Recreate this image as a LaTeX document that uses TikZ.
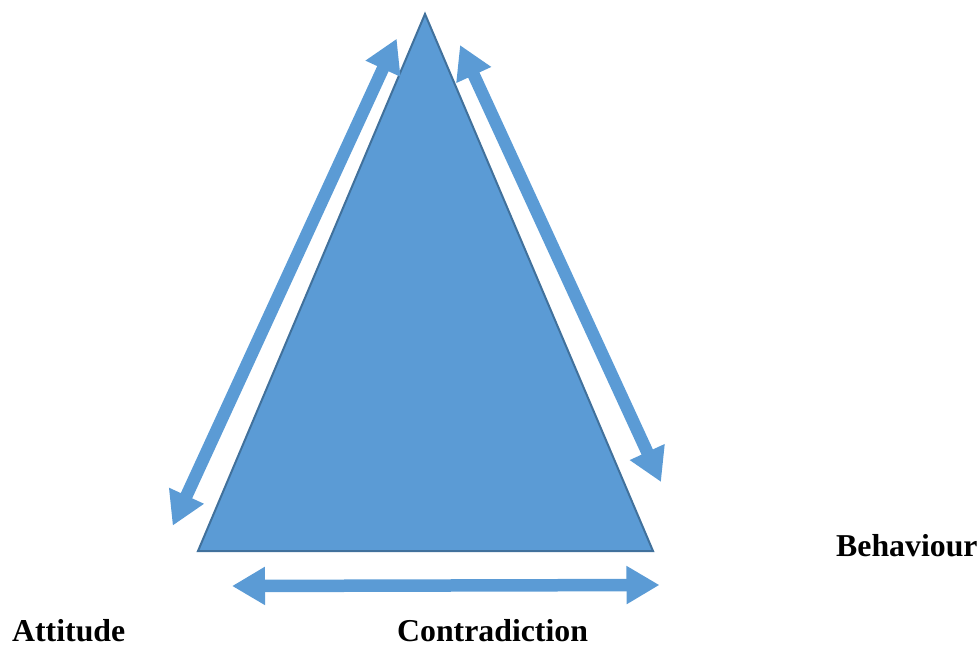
\documentclass[tikz,border=0pt]{standalone}
\usepackage{fontspec}
\setmainfont{Liberation Serif}
\usetikzlibrary{arrows.meta}
\definecolor{blockblue}{HTML}{5B9BD5}
\definecolor{edgeblue}{HTML}{41719C}
\tikzset{
  dblarrow/.style={draw=blockblue, line width=12.5pt,
    {Triangle[width=36pt,length=33pt]}-{Triangle[width=36pt,length=33pt]}},
  label/.style={inner sep=0pt, font=\fontsize{31.8}{36}\selectfont\bfseries, anchor=base west}
}
\begin{document}
\begin{tikzpicture}[x=1pt,y=-1pt]
  \useasboundingbox (0,0) rectangle (979,646);
  % central triangle
  \coordinate (apex) at (425,14);
  \coordinate (bl) at (198,551);
  \coordinate (br) at (653,551);
  \draw[fill=blockblue, draw=edgeblue, line width=2pt, line join=miter] (apex) -- (br) -- (bl) -- cycle;
  % side arrows
  \coordinate (l1) at (172.7,525.7);
  \coordinate (l2) at (396.7,38.7);
  \coordinate (r1) at (460,45);
  \coordinate (r2) at (661,482);
  \coordinate (b1) at (232,586);
  \coordinate (b2) at (659.5,585);
  \draw[dblarrow] (l1) -- (l2);
  \draw[dblarrow] (r1) -- (r2);
  \draw[dblarrow] (b1) -- (b2);
  % labels
  \node[label] (att) at (12,641) {Attitude};
  \node[label] (con) at (397,641) {Contradiction};
  \node[label] (beh) at (836,556) {Behaviour};
\end{tikzpicture}
\end{document}
